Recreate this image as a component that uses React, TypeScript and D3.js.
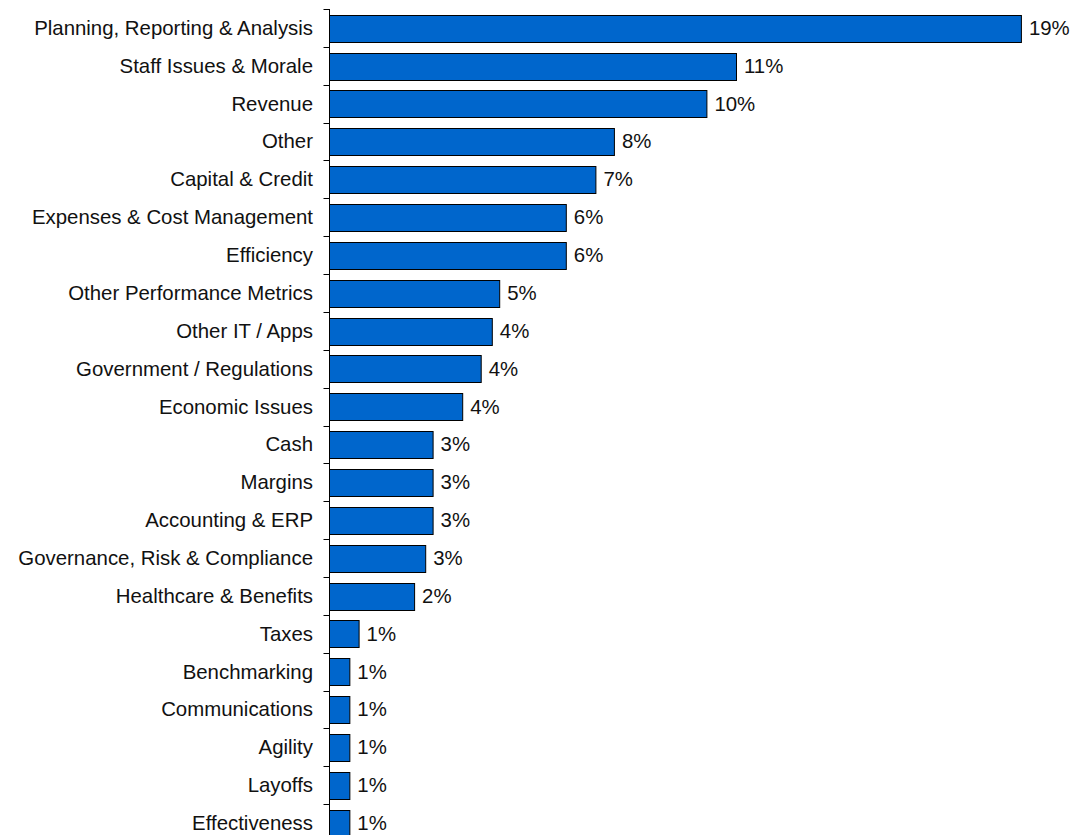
import React from 'react';
import * as d3 from 'd3';

// categories, top to bottom
const categories = [
  'Planning, Reporting & Analysis',
  'Staff Issues & Morale',
  'Revenue',
  'Other',
  'Capital & Credit',
  'Expenses & Cost Management',
  'Efficiency',
  'Other Performance Metrics',
  'Other IT / Apps',
  'Government / Regulations',
  'Economic Issues',
  'Cash',
  'Margins',
  'Accounting & ERP',
  'Governance, Risk & Compliance',
  'Healthcare & Benefits',
  'Taxes',
  'Benchmarking',
  'Communications',
  'Agility',
  'Layoffs',
  'Effectiveness',
];

// share of responses (%)
const shares = [
  18.7, 11.0, 10.2, 7.7, 7.2, 6.4, 6.4, 4.6, 4.4, 4.1, 3.6, 2.8, 2.8, 2.8, 2.6, 2.3,
  0.8, 0.55, 0.55, 0.55, 0.55, 0.55,
];

const WIDTH = 1077;
const HEIGHT = 835;
const AXIS_X = 329.5;
const FONT = '"Liberation Sans", Arial, sans-serif';
const FONT_SIZE = 20.4;

const App: React.FC = () => {
  const x = d3.scaleLinear().domain([0, 20]).range([AXIS_X, AXIS_X + 37 * 20]);

  const y = d3
    .scaleBand<string>()
    .domain(categories)
    .range([9, 842])
    .paddingInner(0.3)
    .paddingOuter(0.15);

  const half = (y.step() * y.paddingInner()) / 2;
  // tick marks sit between bars
  const tickYs = categories.map(c => Math.round((y(c) as number) - half) + 0.5);

  return (
    <svg
      width={WIDTH}
      height={HEIGHT}
      style={{ position: 'absolute', left: 0, top: 0, background: '#fff' }}
      fontFamily={FONT}
    >
      {categories.map((c, i) => {
        const yy = y(c) as number;
        const cy = yy + y.bandwidth() / 2;
        const w = x(shares[i]) - x(0);
        return (
          <g key={c}>
            <rect
              x={AXIS_X}
              y={Math.round(yy) + 0.5}
              width={w}
              height={Math.round(y.bandwidth())}
              fill="#0066cc"
              stroke="#000"
              strokeWidth={1}
            />
            <text x={313} y={cy} dy="0.34em" textAnchor="end" fontSize={FONT_SIZE} fill="#111">
              {c}
            </text>
            <text x={x(shares[i]) + 7.5} y={cy} dy="0.34em" fontSize={FONT_SIZE} fill="#111">
              {Math.round(shares[i])}%
            </text>
          </g>
        );
      })}

      {/* y axis */}
      <line x1={AXIS_X} x2={AXIS_X} y1={9} y2={HEIGHT} stroke="#000" strokeWidth={1} />
      {tickYs.map((t, i) => (
        <line key={i} x1={AXIS_X - 6} x2={AXIS_X} y1={t} y2={t} stroke="#000" strokeWidth={1} />
      ))}
    </svg>
  );
};

export default App;
